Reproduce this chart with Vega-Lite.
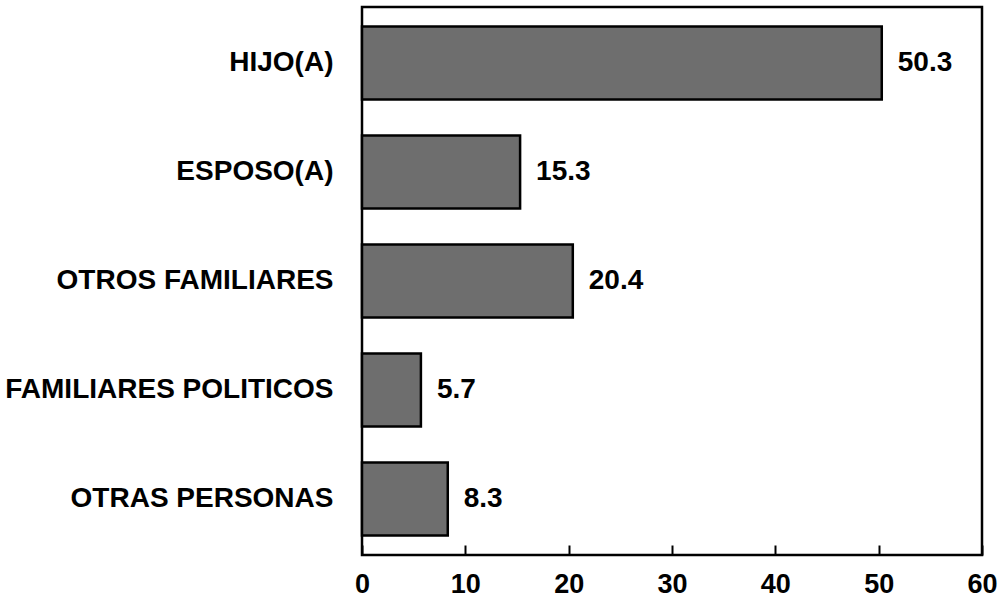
{
  "$schema": "https://vega.github.io/schema/vega-lite/v6.json",
  "autosize": {"type": "none"},
  "padding": {"left": 362, "top": 7, "right": 20, "bottom": 42},
  "width": 620,
  "height": 548,
  "background": "white",
  "data": {
    "values": [
      {"categoria": "HIJO(A)", "porcentaje": 50.3},
      {"categoria": "ESPOSO(A)", "porcentaje": 15.3},
      {"categoria": "OTROS FAMILIARES", "porcentaje": 20.4},
      {"categoria": "FAMILIARES POLITICOS", "porcentaje": 5.7},
      {"categoria": "OTRAS PERSONAS", "porcentaje": 8.3}
    ]
  },
  "encoding": {
    "y": {
      "field": "categoria",
      "type": "nominal",
      "sort": null,
      "scale": {"paddingInner": 0.33, "paddingOuter": 0.18},
      "axis": {
        "title": null,
        "domain": false,
        "ticks": false,
        "tickSize": 0,
        "labelPadding": 29,
        "labelFont": "Liberation Sans",
        "labelFontWeight": "bold",
        "labelFontSize": 28,
        "labelColor": "black",
        "labelLimit": 500
      }
    },
    "x": {
      "field": "porcentaje",
      "type": "quantitative",
      "scale": {"domain": [0, 60], "nice": false},
      "axis": {
        "title": null,
        "values": [0, 10, 20, 30, 40, 50, 60],
        "grid": true,
        "gridColor": "black",
        "gridWidth": 2,
        "gridOpacity": 1,
        "gridDash": [10, 2000],
        "domain": false,
        "ticks": false,
        "tickSize": 0,
        "labelPadding": 16,
        "labelFlush": false,
        "labelFont": "Liberation Sans",
        "labelFontWeight": "bold",
        "labelFontSize": 27,
        "labelColor": "black"
      }
    }
  },
  "layer": [
    {
      "mark": {"type": "bar", "fill": "#6e6e6e", "stroke": "black", "strokeWidth": 2.5}
    },
    {
      "mark": {
        "type": "text",
        "align": "left",
        "baseline": "middle",
        "dx": 16,
        "font": "Liberation Sans",
        "fontWeight": "bold",
        "fontSize": 28,
        "color": "black"
      },
      "encoding": {
        "text": {"field": "porcentaje", "type": "quantitative", "format": ".1f"}
      }
    }
  ],
  "config": {
    "view": {"stroke": "black", "strokeWidth": 2.5}
  }
}
